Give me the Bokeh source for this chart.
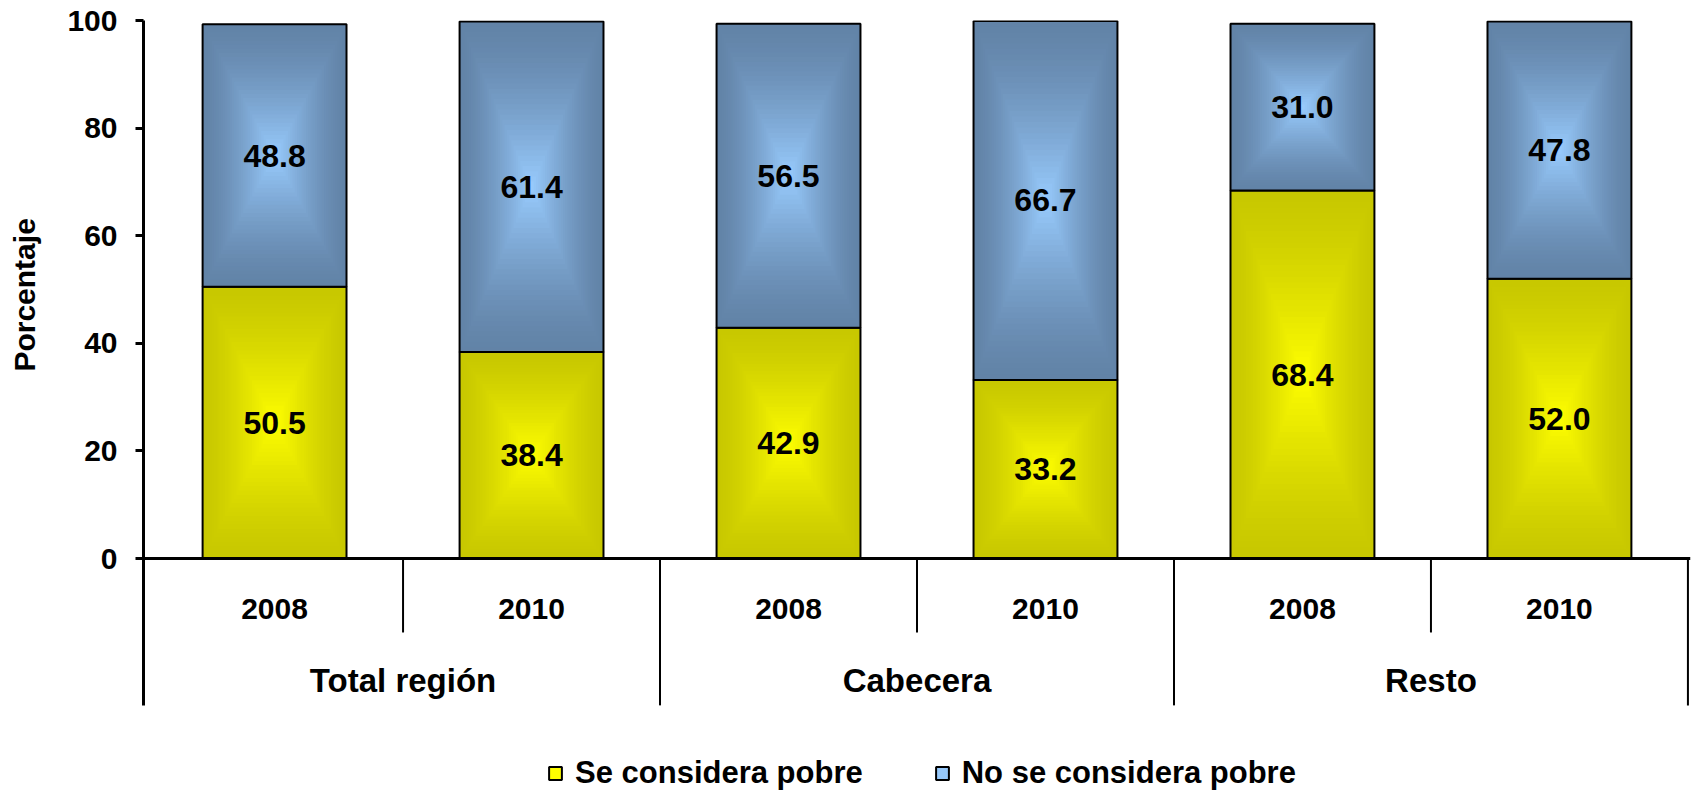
import numpy as np
from bokeh.plotting import figure
from bokeh.models import FactorRange, Range1d, FixedTicker, Legend, LegendItem, Label
from bokeh.core.properties import value
from bokeh.embed import file_html
from bokeh.resources import INLINE

# ---------------- data ----------------
groups = ["Total región", "Cabecera", "Resto"]
years = ["2008", "2010"]
se_considera_pobre = [50.5, 38.4, 42.9, 33.2, 68.4, 52.0]
no_se_considera_pobre = [48.8, 61.4, 56.5, 66.7, 31.0, 47.8]
series_names = ["Se considera pobre", "No se considera pobre"]
y_ticks = [0, 20, 40, 60, 80, 100]
y_title = "Porcentaje"

# ---------------- styling / layout constants ----------------
FONT = "Liberation Sans"
EDGE = ["#C8C800", "#6283A7"]
CENTER = ["#FFFF00", "#99CCFF"]
BAR_W = 0.56
N_LAYERS = 32
Y_MIN = -43.68
YEAR_SEP = -13.75
GROUP_SEP = -27.3
X_PAD = 0.01

factors = [(g, y) for g in groups for y in years]

p = figure(
    x_range=FactorRange(factors=factors, group_padding=0, factor_padding=0,
                        range_padding=X_PAD, range_padding_units="absolute"),
    y_range=Range1d(Y_MIN, 100),
    width=1692, height=793,
    output_backend="svg", toolbar_location=None,
    min_border_left=143, min_border_right=2, min_border_top=20, min_border_bottom=0,
)
p.outline_line_color = None
p.xgrid.grid_line_color = None
p.ygrid.grid_line_color = None


def hex2rgb(h):
    return np.array([int(h[i:i + 2], 16) for i in (1, 3, 5)], dtype=float)


def mix(c0, c1, s):
    c = hex2rgb(c0) * (1 - s) + hex2rgb(c1) * s
    return "#%02x%02x%02x" % tuple(int(round(v)) for v in c)


bottoms = [np.zeros(len(factors)), np.array(se_considera_pobre)]
tops = [np.array(se_considera_pobre), np.array(se_considera_pobre) + np.array(no_se_considera_pobre)]
vals = [se_considera_pobre, no_se_considera_pobre]

legend_items = []
for si in range(2):
    bot, top = bottoms[si], tops[si]
    mid = (bot + top) / 2
    half = (top - bot) / 2
    inner = None
    for k in range(N_LAYERS):
        t = 1 - k / N_LAYERS
        s = k / N_LAYERS
        col = mix(EDGE[si], CENTER[si], s ** 1.4)
        inner = p.vbar(x=factors, bottom=list(mid - half * t), top=list(mid + half * t),
                       width=BAR_W * t, fill_color=col, line_color=None)
    outline = p.vbar(x=factors, bottom=list(bot), top=list(top), width=BAR_W,
                     fill_color=None, line_color="black", line_width=2)
    legend_items.append(LegendItem(label=series_names[si], renderers=[inner, outline]))
    p.text(x=factors, y=list(mid), text=["%.1f" % v for v in vals[si]],
           text_font=value(FONT), text_font_style="bold", text_font_size="32px",
           text_align="center", text_baseline="middle", text_color="black")

# separators below the category axis
year_sep_x = [(g, years[0], 0.5) for g in groups]
group_sep_x = [(g, years[-1], 0.5) for g in groups]
p.segment(x0=year_sep_x, y0=0, x1=year_sep_x, y1=YEAR_SEP, line_color="black", line_width=2)
p.segment(x0=group_sep_x, y0=0, x1=group_sep_x, y1=GROUP_SEP, line_color="black", line_width=2)

# x axis at y = 0
xa = p.xaxis[0]
xa.fixed_location = 0
xa.axis_line_color = "black"
xa.axis_line_width = 3
xa.major_tick_line_color = None
xa.minor_tick_line_color = None
xa.major_tick_out = 0
xa.major_tick_in = 0
xa.separator_line_color = None
xa.major_label_standoff = 40
xa.major_label_text_font = FONT
xa.major_label_text_font_style = "bold"
xa.major_label_text_font_size = "30px"
xa.major_label_text_color = "black"
xa.group_text_font = FONT
xa.group_text_font_style = "bold"
xa.group_text_font_size = "33px"
xa.group_text_color = "black"

# y axis
ya = p.yaxis[0]
ya.ticker = FixedTicker(ticks=y_ticks)
ya.bounds = (GROUP_SEP, 100)
ya.axis_line_color = "black"
ya.axis_line_width = 3
ya.major_tick_line_color = "black"
ya.major_tick_line_width = 3
ya.major_tick_out = 8
ya.major_tick_in = 0
ya.minor_tick_line_color = None
ya.major_label_standoff = 18
ya.major_label_text_font = FONT
ya.major_label_text_font_style = "bold"
ya.major_label_text_font_size = "30px"
ya.major_label_text_color = "black"

# y-axis title, left of the axis, centred on the 0-100 span
p.add_layout(Label(x=-0.473, y=49, x_units="data", y_units="data", text=y_title,
                   angle=np.pi / 2, text_align="center", text_baseline="middle",
                   text_font=FONT, text_font_style="bold", text_font_size="30px",
                   text_color="black"), "left")

legend = Legend(items=legend_items, location=(404, 2), orientation="horizontal",
                glyph_width=16, glyph_height=16, label_standoff=12, spacing=71,
                padding=0, margin=0, border_line_color=None, background_fill_alpha=0,
                label_text_font=FONT, label_text_font_style="bold",
                label_text_font_size="31px", label_text_color="black")
p.add_layout(legend)

open("out.html", "w").write(file_html(p, INLINE))
